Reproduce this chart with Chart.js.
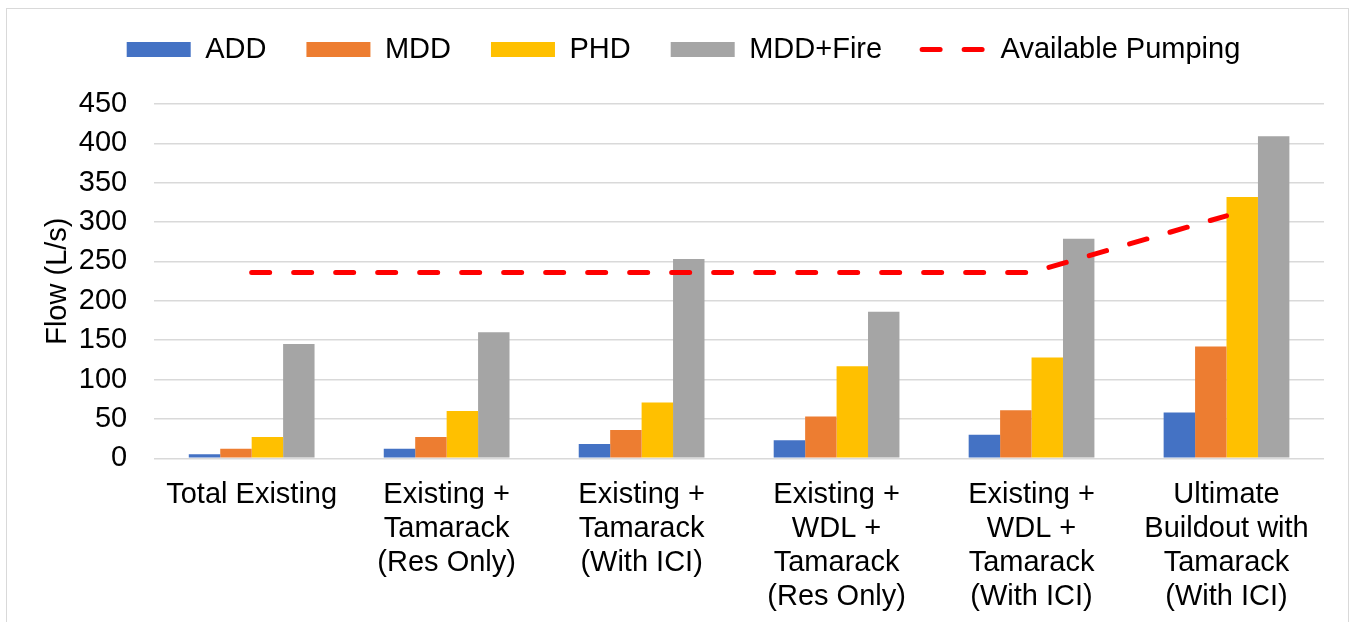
<!DOCTYPE html>
<html>
<head>
<meta charset="utf-8">
<script src="https://cdn.jsdelivr.net/npm/chart.js@4.4.1/dist/chart.umd.min.js"></script>
<style>
  html, body { margin: 0; padding: 0; background: #fff; }
  #wrap { position: relative; width: 1352px; height: 622px; overflow: hidden; }
  #frame { position: absolute; left: 6px; top: 8px; width: 1343px; height: 640px; border: 1px solid #d9d9d9; box-sizing: border-box; }
  canvas { position: absolute; left: 0; top: 0; }
</style>
</head>
<body>
<div id="wrap">
  <div id="frame"></div>
  <canvas id="flowChart" width="1352" height="630"></canvas>
</div>
<script>
// scenarios along the x axis
const categories = [
  "Total Existing",
  ["Existing +", "Tamarack", "(Res Only)"],
  ["Existing +", "Tamarack", "(With ICI)"],
  ["Existing +", "WDL +", "Tamarack", "(Res Only)"],
  ["Existing +", "WDL +", "Tamarack", "(With ICI)"],
  ["Ultimate", "Buildout with", "Tamarack", "(With ICI)"]
];

// flows in L/s
const addFlow = [5, 12, 18, 23, 30, 58];
const mddFlow = [12, 27, 36, 53, 61, 142];
const phdFlow = [27, 60, 71, 117, 128, 332];
const fireFlow = [145, 160, 253, 186, 279, 409];
const availablePumping = [236, 236, 236, 236, 236, 308];

const yTicks = { min: 0, max: 450, step: 50 };

Chart.defaults.font.family = "'Liberation Sans', Arial, sans-serif";
Chart.defaults.color = "#000";

// room under the legend, and nudge it a little to the right
const legendTweak = {
  id: "legendTweak",
  afterInit(chart) {
    const legend = chart.legend;
    const fit = legend.fit;
    legend.fit = function () {
      fit.call(this);
      this.height += 30;
    };
    const draw = legend.draw;
    legend.draw = function () {
      this.ctx.save();
      this.ctx.translate(14, 0);
      draw.call(this);
      this.ctx.restore();
    };
  }
};

const ctx = document.getElementById("flowChart").getContext("2d");

const barCommon = {
  type: "bar",
  barPercentage: 1.0,
  categoryPercentage: 0.645,
  pointStyle: "rect",
  order: 1
};

new Chart(ctx, {
  data: {
    labels: categories,
    datasets: [
      { ...barCommon, label: "ADD", data: addFlow, backgroundColor: "#4472C4" },
      { ...barCommon, label: "MDD", data: mddFlow, backgroundColor: "#ED7D31" },
      { ...barCommon, label: "PHD", data: phdFlow, backgroundColor: "#FFC000" },
      { ...barCommon, label: "MDD+Fire", data: fireFlow, backgroundColor: "#A5A5A5" },
      {
        type: "line",
        label: "Available Pumping",
        data: availablePumping,
        borderColor: "#FF0000",
        backgroundColor: "#FF0000",
        borderWidth: 5,
        borderDash: [18, 24],
        borderCapStyle: "round",
        pointRadius: 0,
        pointStyle: "line",
        tension: 0,
        fill: false,
        order: 0
      }
    ]
  },
  options: {
    responsive: false,
    animation: false,
    layout: { padding: { left: 15, right: 28, top: -5, bottom: 4 } },
    plugins: {
      tooltip: { enabled: false },
      legend: {
        position: "top",
        labels: {
          usePointStyle: true,
          pointStyleWidth: 64,
          boxHeight: 15,
          padding: 40,
          font: { size: 29 },
          sort: (a, b) => a.datasetIndex - b.datasetIndex,
          generateLabels: (chart) => {
            const items = Chart.defaults.plugins.legend.labels.generateLabels(chart);
            items.forEach((item) => {
              const ds = chart.data.datasets[item.datasetIndex];
              if (ds.type === "line") {
                item.lineDash = ds.borderDash;
                item.lineCap = "round";
                item.lineWidth = ds.borderWidth;
              }
            });
            return items;
          }
        }
      }
    },
    scales: {
      x: {
        grid: { display: false },
        border: { display: false },
        ticks: { font: { size: 29, lineHeight: 1.17 }, maxRotation: 0, autoSkip: false, padding: 12 }
      },
      y: {
        min: yTicks.min,
        max: yTicks.max,
        border: { display: false },
        grid: { color: "#d9d9d9", lineWidth: 1.5, drawTicks: false },
        ticks: { stepSize: yTicks.step, font: { size: 29 }, padding: 27 },
        title: { display: true, text: "Flow (L/s)", font: { size: 29 }, padding: { top: 26, bottom: -24 } }
      }
    }
  },
  plugins: [legendTweak]
});
</script>
</body>
</html>
